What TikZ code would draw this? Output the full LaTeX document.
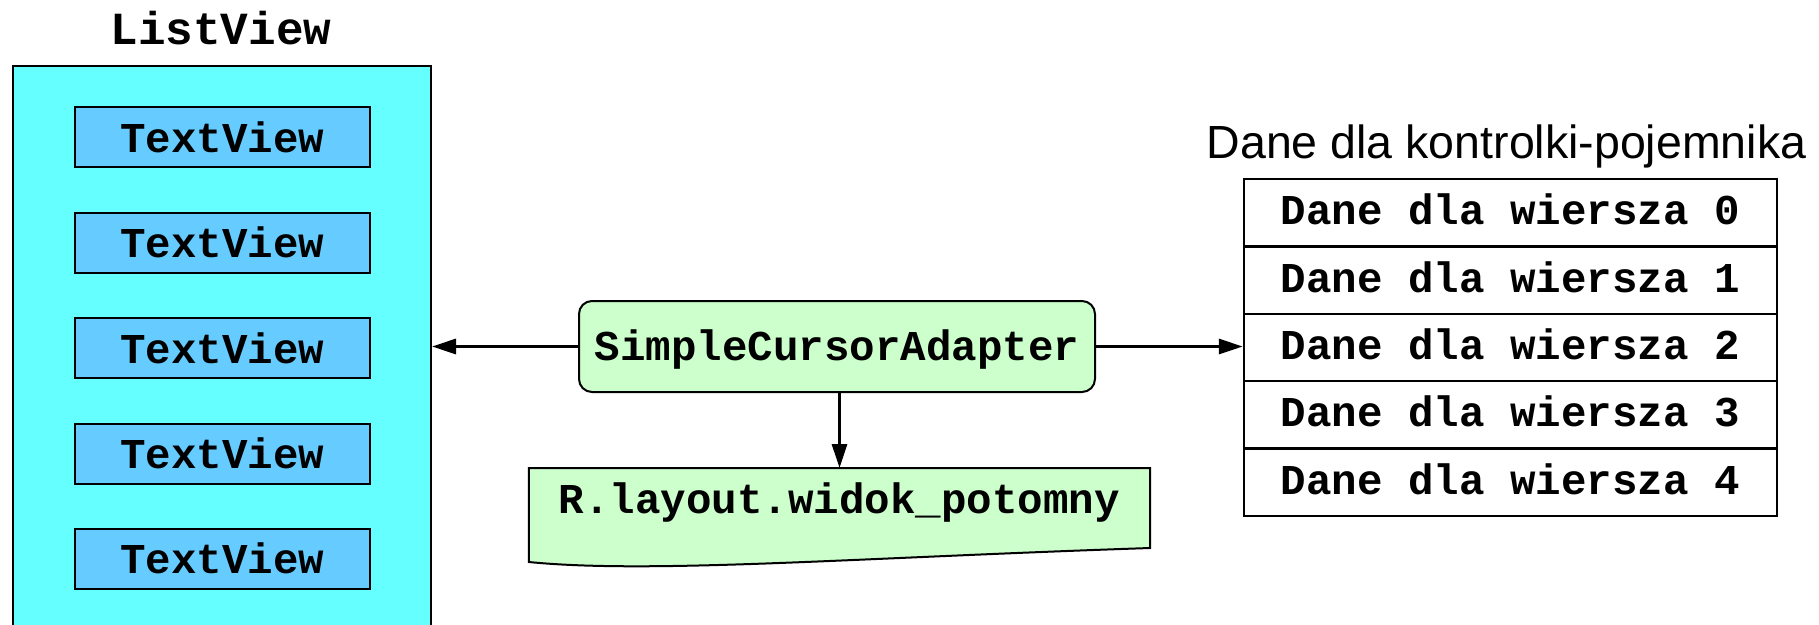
\documentclass[tikz,border=0pt]{standalone}
\usepackage{fontspec}
\setmonofont{Liberation Mono}
\setsansfont{Liberation Sans}
\usetikzlibrary{arrows.meta,calc,backgrounds}

\definecolor{listcyan}{HTML}{66FFFF}
\definecolor{itemblue}{HTML}{66CCFF}
\definecolor{adaptgreen}{HTML}{CCFFCC}

\begin{document}
\begin{tikzpicture}[x=1pt,y=-1pt,
  mono/.style={font=\fontsize{42.5}{50}\ttfamily\bfseries\selectfont,
               text height=24pt, text depth=0pt, inner sep=0pt},
  listbox/.style={draw, line width=2pt, fill=listcyan, inner sep=0pt},
  itembox/.style={mono, text height=30pt, draw, line width=2pt, fill=itemblue,
                  minimum width=295pt, minimum height=60pt},
  adaptbox/.style={mono, text height=27pt, draw, line width=2pt, fill=adaptgreen,
                   rounded corners=13pt, minimum width=516pt, minimum height=91pt},
  rowbox/.style={mono, draw, line width=2.5pt, fill=white,
                 minimum width=533pt, minimum height=67.4pt},
  docshape/.style={fill=adaptgreen, draw, line width=2pt, line join=miter},
  link/.style={line width=3pt, -{Triangle[length=24pt,width=15pt]}}
]
\useasboundingbox (0,0) rectangle (1819,624);

% ListView container and its children
\node[font=\fontsize{46}{54}\ttfamily\bfseries\selectfont, anchor=base, inner sep=0pt]
  (lvlabel) at (221,44) {ListView};
\node[listbox, anchor=north west, minimum width=418pt, minimum height=600pt]
  (lv) at (12,65) {};
\foreach \i/\y in {1/137, 2/242.5, 3/348, 4/453.5, 5/558.5}
  \node[itembox] (tv\i) at (222.5,\y) {TextView};

% Adapter
\node[adaptbox] (sca) at (837,346.5) {SimpleCursorAdapter};

% Layout resource: text node with a document-shaped outline behind it
\node[mono, anchor=north, minimum width=621pt, minimum height=67pt]
  (doc) at (839.5,468) {R.layout.widok\_potomny};
\begin{scope}[on background layer]
\draw[docshape] (doc.north west) -- (doc.north east) -- ($(doc.north east)+(0,80)$)
  .. controls ($(doc.north west)+(321,90)$) and ($(doc.north west)+(121,106)$)
  .. ($(doc.north west)+(0,94)$) -- cycle;
\end{scope}

% Data table
\node[font=\fontsize{46.5}{54}\sffamily\selectfont, anchor=base, inner sep=0pt]
  (title) at (1506.5,158) {Dane dla kontrolki-pojemnika};
\foreach \i in {0,...,4}
  \node[rowbox] (r\i) at (1510.5,{179+67.4*(\i+0.5)}) {Dane dla wiersza \i};

% Connectors
\draw[link] (sca.west) -- (sca.west -| lv.east);
\draw[link] (sca.east) -- (sca.east -| r2.west);
\draw[link] (sca.south -| doc.north) -- (doc.north);
\end{tikzpicture}
\end{document}
